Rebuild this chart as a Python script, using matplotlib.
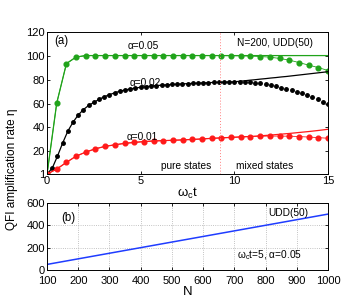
import numpy as np
import matplotlib
matplotlib.use("Agg")
import matplotlib.pyplot as plt

plt.rcParams['font.family'] = ['Liberation Sans', 'DejaVu Sans']
plt.rcParams['mathtext.fontset'] = 'custom'
plt.rcParams['mathtext.rm'] = 'Liberation Sans'
plt.rcParams['mathtext.it'] = 'Liberation Sans'
plt.rcParams['mathtext.default'] = 'regular'

# panel (a): alpha = 0.05 / 0.01 sampled on 30 points, alpha = 0.02 on 55 points
t_coarse = np.linspace(0, 15, 30)
t_fine = np.linspace(0, 15, 55)

green_dots = [1, 60.5, 93.5, 99, 100.2, 100.2, 100.2, 100.2, 100.2, 100.2,
              100.2, 100.2, 100.2, 100.2, 100.2, 100.2, 100.2, 100.2, 100.2, 100.1,
              100.0, 99.8, 99.4, 98.9, 97.8, 96.4, 94.4, 92.2, 90.2, 87.7]
green_line = [1, 60.5, 93.5, 99, 100.2, 100.2, 100.2, 100.2, 100.2, 100.2,
              100.2, 100.2, 100.2, 100.2, 100.2, 100.2, 100.2, 100.2, 100.2, 100.2,
              100.2, 100.2, 100.2, 100.2, 100.2, 100.2, 100.2, 100.2, 100.2, 100.2]

red_dots = [1, 5.2, 10.8, 16, 19.4, 22.2, 24.2, 25.5, 26.7, 27.5,
            28.2, 28.7, 29.0, 29.3, 29.6, 30.0, 30.4, 30.9, 31.3, 31.7,
            32.1, 32.4, 32.7, 32.8, 32.8, 32.7, 32.4, 32.0, 31.5, 31.0]
red_line = [1, 5.2, 10.8, 16, 19.4, 22.2, 24.2, 25.5, 26.7, 27.5,
            28.2, 28.7, 29.0, 29.3, 29.6, 30.0, 30.4, 30.9, 31.3, 31.7,
            32.1, 32.5, 33.0, 33.6, 34.3, 35.0, 35.8, 36.6, 37.5, 38.5]

black_dots = [1, 6, 16, 27, 37, 44.5, 50.5, 55, 58.5, 61,
              63.6, 65.7, 67.5, 69, 70.4, 71.4, 72.3, 73, 73.7, 74.2,
              74.7, 75.1, 75.4, 75.7, 76, 76.2, 76.5, 76.7, 76.9, 77.1,
              77.3, 77.5, 77.7, 77.8, 78, 78.1, 78.2, 78.2, 78.1, 77.9,
              77.5, 77, 76.3, 75.5, 74.5, 73.4, 72.3, 71.2, 70, 68.7,
              67.2, 65.5, 63.6, 61.6, 59.5]
black_line = [1, 6, 16, 27, 37, 44.5, 50.5, 55, 58.5, 61,
              63.6, 65.7, 67.5, 69, 70.4, 71.4, 72.3, 73, 73.7, 74.2,
              74.7, 75.1, 75.4, 75.7, 76, 76.2, 76.5, 76.7, 76.9, 77.1,
              77.3, 77.5, 77.7, 77.8, 78, 78.1, 78.2, 78.7, 79.1, 79.6,
              80.0, 80.5, 80.9, 81.4, 81.8, 82.3, 82.7, 83.2, 83.7, 84.2,
              84.7, 85.2, 85.7, 86.2, 86.7]

t_border = 9.25

# panel (b)
n_vals = [100, 1000]
eta_n = [50, 500]

green = '#20a31a'
red = '#ff1a1a'
blue = '#1f3cff'

fig = plt.figure(figsize=(3.62, 3.07), dpi=100)
ax1 = fig.add_axes([0.130, 0.433, 0.776, 0.463])
ax2 = fig.add_axes([0.130, 0.1205, 0.776, 0.2185])

fs = 7.3
tfs = 8

ax1.plot(t_coarse, green_line, '-', color=green, lw=0.9)
ax1.plot(t_coarse, green_dots, '-o', color=green, lw=0.6, ms=3.4, mec=green)
ax1.plot(t_fine, black_line, '-', color='black', lw=0.9)
ax1.plot(t_fine, black_dots, 'o', color='black', ms=2.5)
ax1.plot(t_coarse, red_line, '-', color=red, lw=0.9)
ax1.plot(t_coarse, red_dots, '-o', color=red, lw=0.6, ms=3.4, mec=red)
ax1.axvline(t_border, color='#ff8080', lw=0.7, ls=(0, (1, 2)))

ax1.set_xlim(0, 15)
ax1.set_ylim(1, 120)
ax1.set_xticks([0, 5, 10, 15])
ax1.set_yticks([1, 20, 40, 60, 80, 100, 120])
ax1.set_xlabel(r'$\omega_c t$', fontsize=9.5, labelpad=0)

ax1.text(0.4, 112, '(a)', fontsize=fs + 1, ha='left', va='center')
ax1.text(5.15, 108, 'α=0.05', fontsize=fs, ha='center', va='center')
ax1.text(5.25, 77, 'α=0.02', fontsize=fs, ha='center', va='center')
ax1.text(5.1, 32, 'α=0.01', fontsize=fs, ha='center', va='center')
ax1.text(12.15, 111, 'N=200, UDD(50)', fontsize=fs, ha='center', va='center')
ax1.text(7.4, 8, 'pure states', fontsize=fs, ha='center', va='center')
ax1.text(11.6, 8, 'mixed states', fontsize=fs, ha='center', va='center')

ax2.plot(n_vals, eta_n, '-', color=blue, lw=1.1)
ax2.set_xlim(100, 1000)
ax2.set_ylim(0, 600)
ax2.set_xticks(range(100, 1001, 100))
ax2.set_yticks([0, 200, 400, 600])
ax2.grid(True, ls=':', color='#b0b0b0', lw=0.6)
ax2.set_xlabel('N', fontsize=9.5, labelpad=0)
ax2.text(145, 465, '(b)', fontsize=fs + 1, ha='left', va='center')
ax2.text(872, 510, 'UDD(50)', fontsize=fs, ha='center', va='center')
ax2.text(814, 128, r'$\omega_c t$=5, α=0.05', fontsize=fs, ha='center', va='center')

for ax in (ax1, ax2):
    ax.tick_params(direction='in', top=True, right=True, labelsize=tfs,
                   length=2.5, width=0.6, pad=1.5)
    for sp in ax.spines.values():
        sp.set_linewidth(0.7)
ax2.tick_params(axis='x', pad=4)

fig.text(0.033, 0.45, 'QFI amplification rate η', rotation=90, fontsize=8.5,
         ha='center', va='center')

fig.savefig('out.png', dpi=100)
